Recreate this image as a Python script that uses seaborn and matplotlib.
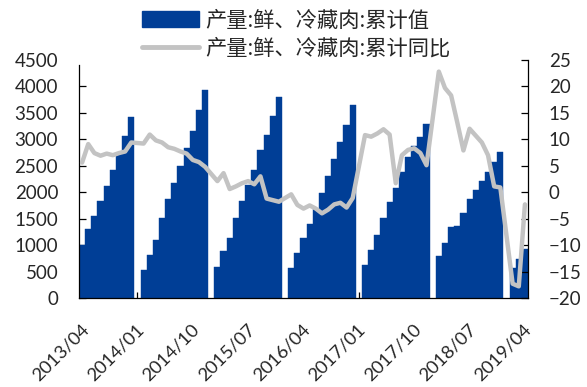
import numpy as np
import pandas as pd
import matplotlib
matplotlib.use("Agg")
import matplotlib.pyplot as plt
import matplotlib.transforms as mtransforms
from matplotlib.patches import Patch
from matplotlib.lines import Line2D
import seaborn as sns

# Monthly axis, 2013/04 .. 2019/04 (January figures are published together with February)
months = pd.period_range("2013-04", "2019-04", freq="M").strftime("%Y/%m").tolist()

# Cumulative output of fresh & chilled meat (10k t), Feb..Dec for each year
cum_2013 = [1000, 1300, 1550, 1840, 2115, 2420, 2730, 3065, 3415]          # Apr..Dec
cum_2014 = [520, 805, 1090, 1505, 1865, 2170, 2490, 2838, 3150, 3545, 3925]
cum_2015 = [578, 879, 1143, 1512, 1840, 2135, 2425, 2800, 3085, 3450, 3800]
cum_2016 = [575, 858, 1125, 1403, 1678, 1993, 2300, 2623, 2948, 3280, 3658]
cum_2017 = [620, 915, 1200, 1513, 1822, 2088, 2380, 2660, 2870, 3052, 3298]
cum_2018 = [788, 1035, 1336, 1370, 1614, 1870, 2034, 2220, 2390, 2580, 2763]
cum_2019 = [560, 745, 933]                                                  # Feb..Apr

# Cumulative year-on-year change (%)
yoy_2013 = [5.6, 9.1, 7.4, 6.9, 7.3, 7.0, 7.4, 7.7, 9.4]
yoy_2014 = [9.2, 10.9, 9.8, 9.4, 8.5, 8.2, 7.7, 7.3, 6.1, 5.7, 4.8]
yoy_2015 = [2.1, 3.6, 0.6, 1.1, 1.7, 2.1, 1.5, 3.0, -1.2, -1.5, -1.8]
yoy_2016 = [-0.4, -2.4, -3.1, -2.5, -3.1, -4.0, -3.3, -2.3, -2.0, -2.9, -1.1]
yoy_2017 = [10.8, 10.5, 11.1, 11.9, 10.9, 1.7, 7.0, 8.0, 8.3, 7.4, 5.1]
yoy_2018 = [22.8, 19.7, 18.3, 13.2, 7.9, 12.0, 10.7, 9.4, 7.0, 1.1, 0.9]
yoy_2019 = [-17.3, -17.8, -2.3]

label_cum = "产量:鲜、冷藏肉:累计值"
label_yoy = "产量:鲜、冷藏肉:累计同比"

BLUE = "#003E96"
GRAY = "#C3C3C3"


def with_gaps(*years):
    out = list(years[0])
    for y in years[1:]:
        out += [np.nan] + list(y)
    return out


cum = with_gaps(cum_2013, cum_2014, cum_2015, cum_2016, cum_2017, cum_2018, cum_2019)
yoy = with_gaps(yoy_2013, yoy_2014, yoy_2015, yoy_2016, yoy_2017, yoy_2018, yoy_2019)

df = pd.DataFrame({"month": months, "pos": np.arange(len(months)), "cum": cum, "yoy": yoy})

sns.set_theme(style="white")
plt.rcParams["font.family"] = ["Lato", "Noto Sans CJK SC", "DejaVu Sans"]

fig = plt.figure(figsize=(5.87, 3.87), dpi=100)
ax = fig.add_axes([0.1346, 0.230, 0.8995 - 0.1346, 0.845 - 0.230])

sns.barplot(data=df.dropna(subset=["cum"]), x="month", y="cum", order=months,
            color=BLUE, saturation=1, width=1.0, edgecolor=BLUE, linewidth=0.3, ax=ax)

ax2 = ax.twinx()
sns.lineplot(data=df.dropna(subset=["yoy"]), x="pos", y="yoy", ax=ax2,
             color=GRAY, linewidth=3.2)

ax.set_xlim(-0.5, len(months) - 0.5)
ax.set_ylim(0, 4500)
ax.set_yticks(np.arange(0, 4501, 500))
ax2.set_ylim(-20, 25)
ax2.set_yticks(np.arange(-20, 26, 5))

ax.set_xticks(np.arange(0, len(months), 9))
ax.set_xticklabels(months[::9], rotation=45, ha="right", va="center",
                   rotation_mode="anchor")

for a in (ax, ax2):
    a.set_xlabel("")
    a.set_ylabel("")
    for s in a.spines.values():
        s.set_color("black")
        s.set_linewidth(0.9)
    a.spines["top"].set_visible(False)

ax.spines["right"].set_visible(False)
ax2.spines["left"].set_visible(False)
ax2.spines["bottom"].set_visible(False)
ax.spines["left"].set_bounds(0, 4400)

ax.tick_params(axis="y", direction="in", length=5, width=0.9, color="black",
               pad=15, labelsize=13.5, left=True)
ax.tick_params(axis="x", direction="in", length=4, width=0.9, color="black",
               pad=20.5, labelsize=13.3, bottom=True)
ax2.tick_params(axis="y", direction="in", length=5, width=0.9, color="black",
                pad=15, labelsize=13.5, right=True)
ax.yaxis.get_major_ticks()[-1].tick1line.set_visible(False)

# nudge the slanted date labels a little to the right
shift = mtransforms.ScaledTranslation(4 / 100, 0, fig.dpi_scale_trans)
for lab in ax.get_xticklabels():
    lab.set_transform(lab.get_transform() + shift)

handles = [Patch(facecolor=BLUE, edgecolor=BLUE),
           Line2D([0], [0], color=GRAY, linewidth=3.5)]
fig.legend(handles, [label_cum, label_yoy], loc="upper left",
           bbox_to_anchor=(0.221, 1.008), frameon=False,
           prop={"family": ["Noto Sans CJK SC", "DejaVu Sans"], "size": 15.3},
           handlelength=2.65, handleheight=0.77, handletextpad=0.3,
           labelspacing=0.3, borderaxespad=0.2)

fig.savefig("out.png", dpi=100)
